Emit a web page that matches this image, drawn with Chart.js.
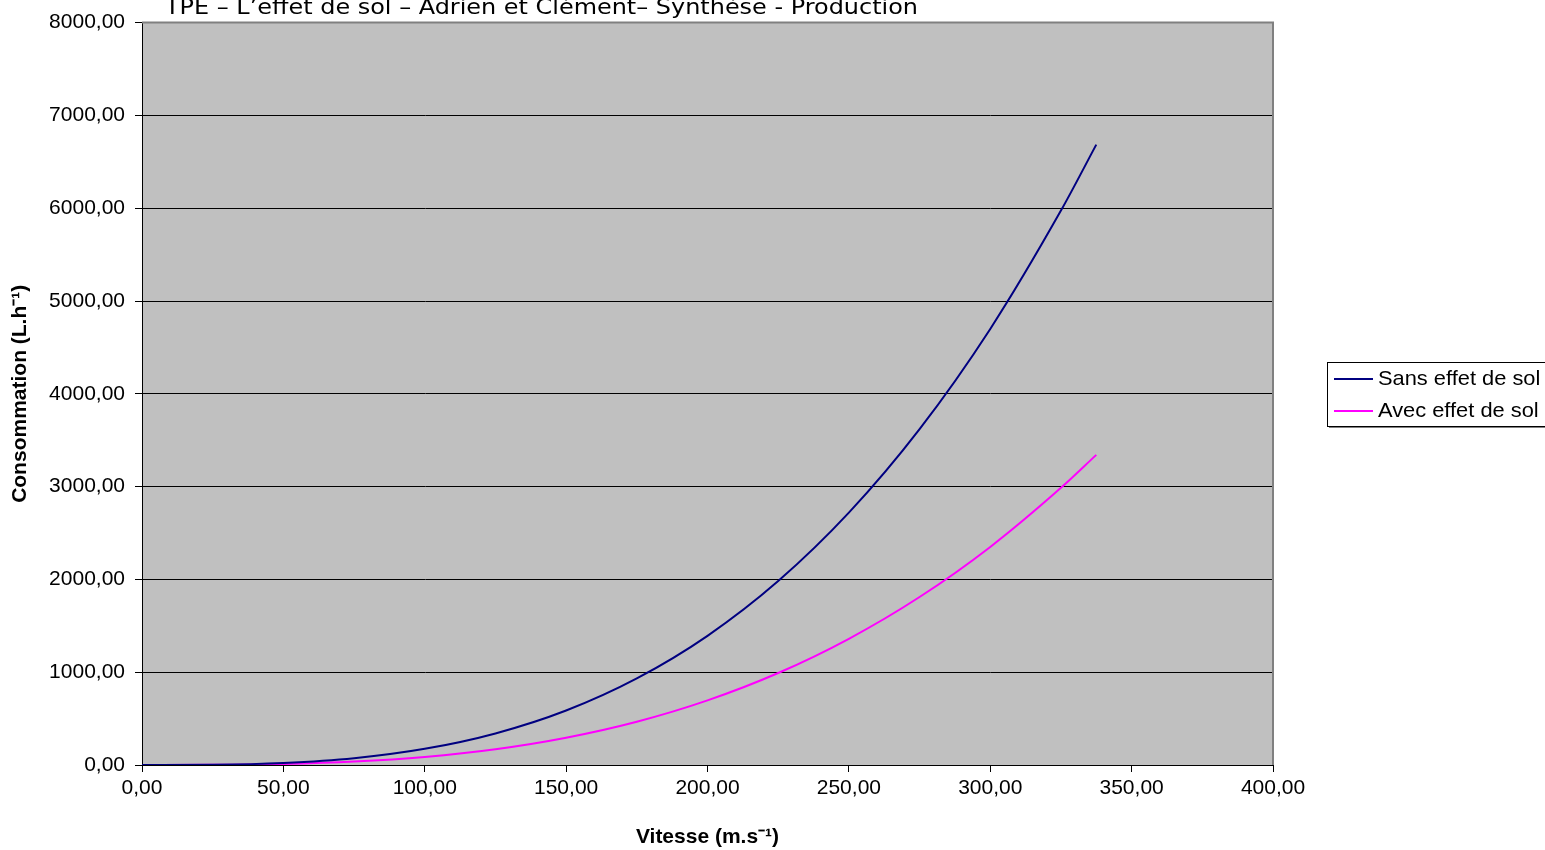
<!DOCTYPE html>
<html>
<head>
<meta charset="utf-8">
<script src="https://cdn.jsdelivr.net/npm/chart.js@4.4.1/dist/chart.umd.min.js"></script>
<style>
  html, body { margin: 0; padding: 0; background: #fff; }
  #wrap { width: 1545px; height: 850px; }
</style>
</head>
<body>
<div id="wrap"><canvas id="graphique"></canvas></div>
<script>
// valeurs
const vitesses = [0, 25, 50, 75, 100, 125, 150, 175, 200, 225, 250, 275, 300, 325, 337.5];
const sansEffet = [0, 2.7, 22, 73, 174, 340, 587, 933, 1392, 1982, 2719, 3619, 4699, 5974, 6685];
const avecEffet = [0, 1.4, 11, 37, 87, 170, 294, 466, 696, 991, 1360, 1810, 2350, 2987, 3342];
const nomsSeries = ['Sans effet de sol', 'Avec effet de sol'];
const couleurs = ['#000080', '#FF00FF'];
const titre = 'TPE \u2013 L\u2019effet de sol \u2013 Adrien et Cl\u00e9ment\u2013 Synth\u00e8se - Production';

function points(ys) {
    return vitesses.map(function (v, i) { return { x: v, y: ys[i] }; });
}

function format(v) {
    return v.toFixed(2).replace('.', ',');
}

// fond gris de la zone de tracé + bord gris
const fondGris = {
    id: 'fondGris',
    beforeDraw(chart) {
        const a = chart.chartArea, ctx = chart.ctx;
        ctx.save();
        ctx.fillStyle = '#C0C0C0';
        ctx.fillRect(a.left, a.top, a.right - a.left, a.bottom - a.top);
        ctx.restore();
    },
    afterDraw(chart) {
        const a = chart.chartArea, ctx = chart.ctx;
        ctx.save();
        ctx.strokeStyle = '#808080';
        ctx.lineWidth = 2;
        ctx.beginPath();
        ctx.moveTo(a.left, a.top);
        ctx.lineTo(a.right, a.top);
        ctx.lineTo(a.right, a.bottom);
        ctx.stroke();

        // titre (coupé en haut comme l'original), étiré à la largeur d'origine
        ctx.fillStyle = '#000';
        ctx.font = '21px "DejaVu Sans"';
        ctx.textBaseline = 'alphabetic';
        ctx.textAlign = 'left';
        const largeur = ctx.measureText(titre).width;
        ctx.save();
        ctx.translate(165, 14);
        ctx.scale(753 / largeur, 1);
        ctx.fillText(titre, 0, 0);
        ctx.restore();

        // légende
        const lx = 1327, ly = 362, lw = 225, lh = 64;
        ctx.fillStyle = '#808080';
        ctx.fillRect(lx + 2, ly + 2, lw, lh);
        ctx.fillStyle = '#fff';
        ctx.fillRect(lx, ly, lw, lh);
        ctx.strokeStyle = '#000';
        ctx.lineWidth = 1;
        ctx.strokeRect(lx + 0.5, ly + 0.5, lw, lh);
        ctx.font = '21px "Liberation Sans", Arial';
        ctx.textBaseline = 'middle';
        chart.data.datasets.forEach(function (ds, i) {
            const y = ly + 17 + i * 32;
            ctx.strokeStyle = ds.borderColor;
            ctx.lineWidth = 2;
            ctx.beginPath();
            ctx.moveTo(lx + 7, y);
            ctx.lineTo(lx + 46, y);
            ctx.stroke();
            ctx.fillStyle = '#000';
            ctx.save();
            ctx.translate(lx + 51, y);
            ctx.scale(1.04, 1);
            ctx.fillText(ds.label, 0, 0);
            ctx.restore();
        });
        ctx.restore();
    }
};

const ctx = document.getElementById('graphique').getContext('2d');
const graphique = new Chart(ctx, {
    type: 'scatter',
    data: {
        datasets: [
            {
                label: nomsSeries[0],
                data: points(sansEffet),
                borderColor: couleurs[0],
                backgroundColor: couleurs[0],
                showLine: true,
                borderWidth: 2,
                pointRadius: 0,
                cubicInterpolationMode: 'monotone'
            },
            {
                label: nomsSeries[1],
                data: points(avecEffet),
                borderColor: couleurs[1],
                backgroundColor: couleurs[1],
                showLine: true,
                borderWidth: 2,
                pointRadius: 0,
                cubicInterpolationMode: 'monotone'
            }
        ]
    },
    options: {
        responsive: true,
        maintainAspectRatio: false,
        animation: false,
        layout: { padding: { left: 0, top: 22, right: 272, bottom: 0 } },
        plugins: {
            legend: { display: false },
            tooltip: { enabled: false }
        },
        scales: {
            x: {
                type: 'linear',
                min: 0,
                max: 400,
                ticks: {
                    stepSize: 50,
                    color: '#000',
                    font: { family: '"Liberation Sans", Arial', size: 21 },
                    padding: 4,
                    maxRotation: 0,
                    callback: function (v) { return format(v); }
                },
                grid: { drawOnChartArea: false, tickLength: 7, color: '#000', tickColor: '#000' },
                border: { color: '#000', width: 1 },
                title: {
                    display: true,
                    text: 'Vitesse (m.s\u207B\u00B9)',
                    color: '#000',
                    font: { family: '"Liberation Sans", Arial', size: 21, weight: 'bold' },
                    padding: { top: 4, bottom: 0 }
                },
                afterFit: function (s) { s.height = 85; }
            },
            y: {
                min: 0,
                max: 8000,
                ticks: {
                    stepSize: 1000,
                    color: '#000',
                    font: { family: '"Liberation Sans", Arial', size: 21 },
                    padding: 10,
                    callback: function (v) { return format(v); }
                },
                grid: { color: '#000', lineWidth: 1, tickLength: 7, tickColor: '#000' },
                border: { color: '#000', width: 1 },
                title: {
                    display: true,
                    text: 'Consommation (L.h\u207B\u00B9)',
                    color: '#000',
                    font: { family: '"Liberation Sans", Arial', size: 21, weight: 'bold' },
                    padding: { top: 8, bottom: 0 }
                },
                afterFit: function (s) { s.width = 142; }
            }
        }
    },
    plugins: [fondGris]
});
</script>
</body>
</html>
